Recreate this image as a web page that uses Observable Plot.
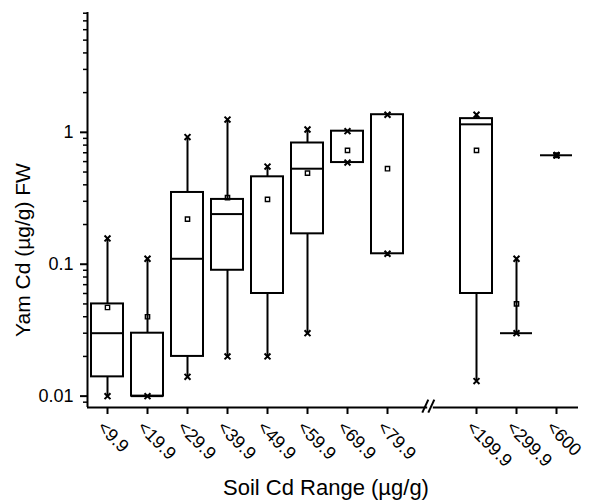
<!DOCTYPE html>
<html>
<head>
<meta charset="utf-8">
<script src="https://cdn.jsdelivr.net/npm/d3@7"></script>
<script src="https://cdn.jsdelivr.net/npm/@observablehq/plot@0.6"></script>
<style>
  body { margin: 0; background: #fff; }
  svg { display: block; }
</style>
</head>
<body>
<div id="chart"></div>
<script>
// Soil Cd range classes and the yam Cd summary statistics (µg/g FW) for each class
const categories = ["<9.9", "<19.9", "<29.9", "<39.9", "<49.9", "<59.9", "<69.9", "<79.9", "<199.9", "<299.9", "<600"];
const minima  = [0.010, 0.010, 0.014, 0.020, 0.020, 0.030, 0.59, 0.12, 0.013, 0.030, 0.67];
const q1s     = [0.014, 0.010, 0.020, 0.090, 0.060, 0.170, 0.59, 0.12, 0.060, 0.030, 0.67];
const medians = [0.030, 0.010, 0.110, 0.240, null,  0.530, null, null, 1.150, 0.030, 0.67];
const q3s     = [0.050, 0.030, 0.350, 0.310, 0.460, 0.830, 1.02, 1.36, 1.270, 0.030, 0.67];
const maxima  = [0.157, 0.110, 0.920, 1.250, 0.550, 1.050, 1.02, 1.36, 1.360, 0.110, 0.67];
const means   = [0.047, 0.040, 0.220, 0.320, 0.310, 0.490, 0.73, 0.53, 0.730, 0.050, 0.67];
const yTickValues = [0.01, 0.1, 1];
const xTitle = "Soil Cd Range (µg/g)";
const yTitle = "Yam Cd (µg/g) FW";

// classes drawn with a filled mean marker (single sample)
const solidMeanClasses = ["<600"];

// Layout: the x axis is broken after "<79.9"
const gapAfter = 7;
const gapWidth = 1.225;
const slot = (i) => (i > gapAfter ? i + gapWidth : i);
const halfBox = 0.4;
const xDomain = [-0.5, 11.775];
const yDomain = [0.0082, 8.1];
const breakX = 8.075;

const rows = categories.map((c, i) => ({
  c, x: slot(i),
  min: minima[i], q1: q1s[i], med: medians[i], q3: q3s[i], max: maxima[i], mean: means[i]
}));

const ends = rows.flatMap((d) => [{x: d.x, y: d.min}, {x: d.x, y: d.max}]);

// minor log ticks (2..9 × each decade) inside the y domain
const minorTicks = d3.range(-3, 1)
  .flatMap((e) => d3.range(2, 10).map((k) => +(k * 10 ** e).toPrecision(3)))
  .filter((v) => v >= yDomain[0] && v <= yDomain[1]);

const font = "'Liberation Sans', Arial, Helvetica, sans-serif";

const chart = Plot.plot({
  width: 598,
  height: 501,
  marginLeft: 87,
  marginRight: 20,
  marginTop: 12,
  marginBottom: 94,
  style: {fontFamily: font, fontSize: "18px", color: "black", background: "white"},
  x: {type: "linear", domain: xDomain, axis: null},
  y: {type: "log", domain: yDomain, axis: null},
  marks: [
    // whiskers
    Plot.ruleX(rows, {x: "x", y1: "min", y2: "max", stroke: "black", strokeWidth: 2}),
    // interquartile boxes
    Plot.rect(rows.filter((d) => d.q3 > d.q1), {
      x1: (d) => d.x - halfBox, x2: (d) => d.x + halfBox, y1: "q1", y2: "q3",
      fill: "white", stroke: "black", strokeWidth: 2
    }),
    // medians
    Plot.ruleY(rows.filter((d) => d.med != null), {
      y: "med", x1: (d) => d.x - halfBox, x2: (d) => d.x + halfBox, stroke: "black", strokeWidth: 2
    }),
    // whisker end markers
    Plot.dot(ends, {x: "x", y: "y", symbol: "times", r: 2.8, stroke: "black", strokeWidth: 2}),
    // means
    Plot.dot(rows.filter((d) => !solidMeanClasses.includes(d.c)), {
      x: "x", y: "mean", symbol: "square", r: 2.4, stroke: "black", strokeWidth: 1.4, fill: "none"
    }),
    Plot.dot(rows.filter((d) => solidMeanClasses.includes(d.c)), {
      x: "x", y: "mean", symbol: "square", r: 2.6, stroke: "black", strokeWidth: 1.2, fill: "black"
    }),
    // axis lines
    Plot.ruleX([xDomain[0]], {stroke: "black", strokeWidth: 2}),
    Plot.ruleY([yDomain[0]], {x1: xDomain[0], x2: xDomain[1], stroke: "black", strokeWidth: 2}),
    // axis break
    Plot.ruleY([yDomain[0]], {x1: breakX - 0.07, x2: breakX + 0.07, stroke: "white", strokeWidth: 5}),
    Plot.link([breakX - 0.075, breakX + 0.075], {
      x1: (d) => d - 0.13, x2: (d) => d + 0.02, y1: 0.0075, y2: 0.0094,
      stroke: "black", strokeWidth: 2
    }),
    // y axis ticks and labels
    Plot.axisY(yTickValues, {
      tickSize: 7, tickPadding: 7, strokeWidth: 2, tickFormat: (d) => String(d),
      fontSize: 18, label: null
    }),
    Plot.axisY(minorTicks, {tickSize: 4, strokeWidth: 1.5, tickFormat: () => "", label: null}),
    // x axis ticks and rotated class labels
    Plot.axisX(rows.map((d) => d.x), {tickSize: 7, strokeWidth: 2, tickFormat: () => "", label: null}),
    Plot.text(rows, {
      x: "x", frameAnchor: "bottom", text: "c", rotate: 45, textAnchor: "start",
      dx: -11, dy: 21, fontSize: 18
    }),
    // x axis title
    Plot.text([xTitle], {
      frameAnchor: "bottom", text: (d) => d, dx: -7, dy: 87, fontSize: 22, lineAnchor: "bottom"
    })
  ]
});

// y axis title, set beside the axis and a little below the plot's middle
d3.select(chart).append("text")
  .attr("transform", "translate(30,250) rotate(-90)")
  .attr("text-anchor", "middle")
  .attr("font-family", font)
  .attr("font-size", 21)
  .attr("fill", "black")
  .text(yTitle);

document.getElementById("chart").appendChild(chart);
</script>
</body>
</html>
